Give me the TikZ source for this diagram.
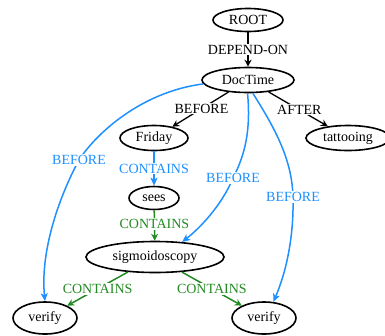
\documentclass[tikz,border=0pt]{standalone}
\usepackage{fontspec}
\setmainfont{Liberation Serif}
\usetikzlibrary{shapes.geometric,arrows.meta}
\definecolor{eblue}{RGB}{30,144,255}
\definecolor{egreen}{RGB}{34,139,34}
\begin{document}
\begin{tikzpicture}[x=1pt,y=-1pt,
  nd/.style={ellipse,draw,line width=1.6pt,inner sep=0pt,font=\fontsize{14}{16}\selectfont},
  lbl/.style={fill=white,inner sep=1pt,font=\fontsize{14}{16}\selectfont},
  blk/.style={line width=1.3pt,-{Stealth[length=7pt,width=7pt]}},
  bedge/.style={eblue,line width=1.5pt,-{Stealth[length=8pt,width=7pt,inset=2pt]}},
  gedge/.style={egreen,line width=1.5pt,-{Stealth[length=7pt,width=7pt]}}]
\useasboundingbox (0,0) rectangle (385,335);
\clip (0,0) rectangle (385,335);
\node[nd,minimum width=70pt,minimum height=23pt] (root) at (248,20) {ROOT};
\node[nd,minimum width=92pt,minimum height=25pt] (doc) at (248,80) {DocTime};
\node[nd,minimum width=68pt,minimum height=25pt] (fri) at (154,138) {Friday};
\node[nd,minimum width=84pt,minimum height=25pt] (tat) at (348,138) {tattooing};
\node[nd,minimum width=50pt,minimum height=23pt] (sees) at (154,198) {sees};
\node[nd,minimum width=138pt,minimum height=31pt] (sig) at (155,257) {sigmoidoscopy};
\node[nd,minimum width=64pt,minimum height=32pt] (v1) at (45,318) {verify};
\node[nd,minimum width=64pt,minimum height=32pt] (v2) at (264,318) {verify};
% black edges
\draw[blk] (root) -- (doc) node[lbl,pos=0.5] {DEPEND-ON};
\draw[blk] (doc) -- (fri) node[lbl,pos=0.48] {BEFORE};
\draw[blk] (doc) -- (tat) node[lbl,pos=0.52] {AFTER};
% blue edges
\draw[bedge] (doc.185) .. controls (140,92) and (95,135) .. (79,160)
  .. controls (60,195) and (40,250) .. (v1.north);
\node[lbl,text=eblue] at (79,160) {BEFORE};
\draw[bedge] (doc.268) .. controls (251,130) and (245,155) .. (233,178)
  .. controls (222,205) and (200,228) .. (sig.29);
\node[lbl,text=eblue] at (233,178) {BEFORE};
\draw[bedge] (doc.290) .. controls (276,130) and (292,160) .. (293,197)
  .. controls (294,240) and (285,275) .. (v2.60);
\node[lbl,text=eblue] at (293,197) {BEFORE};
\draw[bedge] (fri) -- (sees) node[lbl,text=eblue,pos=0.5] {CONTAINS};
% green edges
\draw[gedge] (sees) -- (sig) node[lbl,text=egreen,pos=0.45] {CONTAINS};
\draw[gedge] (sig) -- (v1) node[lbl,text=egreen,pos=0.5] {CONTAINS};
\draw[gedge] (sig) -- (v2) node[lbl,text=egreen,pos=0.5] {CONTAINS};
\end{tikzpicture}
\end{document}
